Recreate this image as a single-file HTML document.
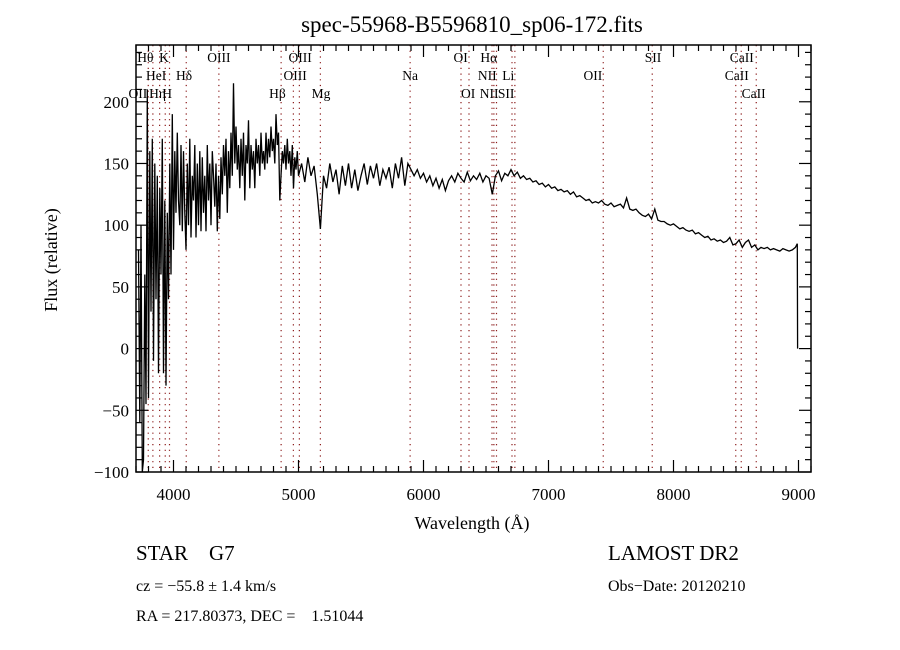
<!DOCTYPE html>
<html><head><meta charset="utf-8"><style>
html,body{margin:0;padding:0;background:#fff}
svg{display:block}
text{font-family:"Liberation Serif",serif;fill:#000;white-space:pre}
</style></head><body>
<svg id="chart" width="900" height="650" viewBox="0 0 900 650" xml:space="preserve">
<text x="472" y="32" text-anchor="middle" font-size="23">spec-55968-B5596810_sp06-172.fits</text>
<g id="lines"></g>
<g id="labels"></g>
<g id="spec"></g>
<g id="axes"></g>
<text x="472" y="529" text-anchor="middle" font-size="18">Wavelength (Å)</text>
<text transform="translate(57,260) rotate(-90)" text-anchor="middle" font-size="18">Flux (relative)</text>
<text x="136" y="560" font-size="21">STAR    G7</text>
<text x="608" y="560" font-size="21">LAMOST DR2</text>
<text x="136" y="591" font-size="16">cz = −55.8 ± 1.4 km/s</text>
<text x="608" y="591" font-size="16">Obs−Date: 20120210</text>
<text x="136" y="621" font-size="16">RA = 217.80373, DEC =    1.51044</text>
</svg>
<script>
const blueStart=[3720], blueStep=[10];
const blueFlux=[80,-60,100,-100,-90,60,-45,210,-40,160,30,170,-10,150,40,140,-20,130,60,170,-20,120,-30,110,40,150,60,190,80,160,110,175,120,100,165,95,160,110,80,150,100,170,90,140,120,165,90,150,100,160,95,155,110,140,95,165,120,150,100,160,140,115,150,95,140,105,155,125,165,140,170,110,160,130,175,140,215,150,180,145,165,130,170,140,175,120,165,150,185,130,165,145,160,130,170,150,165,140,175,150,160,145,175,150,170,155,180,160,170,150,190,165,175,120,140,160,150,165,145,170,150,160,140,165,130,155,145,160,140];
const redStart=[5025], redStep=[25];
const redFlux=[150,135,155,140,148,125,97,140,130,150,135,145,125,148,132,150,130,145,128,140,150,133,148,138,150,132,145,138,147,130,150,138,155,132,150,145,140,145,138,142,135,140,132,138,130,137,128,136,140,135,142,138,135,143,136,140,137,142,135,140,138,125,140,144,136,142,140,145,140,143,138,140,137,138,135,136,133,134,131,133,130,131,128,129,127,128,125,127,123,124,122,120,121,118,119,118,120,117,116,118,115,116,117,114,122,113,112,113,110,108,107,109,105,113,104,103,103,101,100,101,99,97,98,96,95,96,93,94,92,90,91,88,89,87,88,86,87,90,84,85,88,82,86,88,82,84,80,82,81,82,80,81,80,79,81,80,79,80,82];
const tailWave=[8990,8993], tailFlux=[85,0];
const lineWaves=[3798,3835,3889,3934,3968,4102,4363,4861,4959,5007,5175,5893,6300,6364,6548,6563,6584,6708,6731,7438,7830,8498,8542,8662];
const labelText=["Hθ","K","OIII","OIII","OI","Hα","SII","CaII","HeI","Hδ","OIII","Na","NII","Li","OII","CaII","OII","Hη","H","Hβ","Mg","OI","NII","SII","CaII"];
const labelWave=[3710,3885,4270,4920,6240,6455,7770,8450,3780,4020,4880,5830,6435,6630,7280,8410,3640,3805,3910,4765,5105,6300,6450,6595,8545];
const labelRow=[0,0,0,0,0,0,0,0,1,1,1,1,1,1,1,1,2,2,2,2,2,2,2,2,2];
const xMin=3700,xMax=9100,yMin=-100,yMax=246;
const L=136,R=811,T=45,B=472;
const X=w=>L+(w-xMin)/(xMax-xMin)*(R-L);
const Y=v=>B-(v-yMin)/(yMax-yMin)*(B-T);
const NS="http://www.w3.org/2000/svg";
function mk(tag,attrs,parent){const e=document.createElementNS(NS,tag);for(const k in attrs)e.setAttribute(k,attrs[k]);parent.appendChild(e);return e;}
const gl=document.getElementById('lines');
lineWaves.forEach(w=>{const l=mk('line',{x1:X(w),x2:X(w),y1:T,y2:B,stroke:'#8b1a1a','stroke-width':1.2,'stroke-dasharray':'1.2,4.5'},gl);

});
const glab=document.getElementById('labels');
const rowY=[62,80,98];
labelText.forEach((t,i)=>{const e=mk('text',{x:X(labelWave[i]),y:rowY[labelRow[i]],'font-size':13.5},glab);e.textContent=t;

});
let pts=[];
blueFlux.forEach((v,i)=>pts.push([blueStart[0]+blueStep[0]*i,v]));
redFlux.forEach((v,i)=>pts.push([redStart[0]+redStep[0]*i,v]));
tailWave.forEach((w,i)=>pts.push([w,tailFlux[i]]));
const p=mk('polyline',{points:pts.map(q=>X(q[0]).toFixed(1)+','+Y(q[1]).toFixed(1)).join(' '),fill:'none',stroke:'#000','stroke-width':1.3,'stroke-linejoin':'miter'},document.getElementById('spec'));


const ga=document.getElementById('axes');
const box=mk('rect',{x:L,y:T,width:R-L,height:B-T,fill:'none',stroke:'#000','stroke-width':1.5},ga);


for(let w=3700;w<=9100;w+=100){const big=w%1000===0,len=big?12:6,x=X(w);
mk('line',{x1:x,x2:x,y1:B,y2:B-len,stroke:'#000','stroke-width':1.2},ga);
mk('line',{x1:x,x2:x,y1:T,y2:T+len,stroke:'#000','stroke-width':1.2},ga);
if(big){const t=mk('text',{x:x,y:B+28,'text-anchor':'middle','font-size':17},ga);t.textContent=w;

}}
for(let v=-100;v<=240;v+=10){const big=v%50===0,len=big?12:6,y=Y(v);
mk('line',{x1:L,x2:L+len,y1:y,y2:y,stroke:'#000','stroke-width':1.2},ga);
mk('line',{x1:R,x2:R-len,y1:y,y2:y,stroke:'#000','stroke-width':1.2},ga);
if(big){const t=mk('text',{x:L-7,y:y+6,'text-anchor':'end','font-size':17},ga);t.textContent=v<0?'−'+(-v):v;

}}
</script>
</body></html>
